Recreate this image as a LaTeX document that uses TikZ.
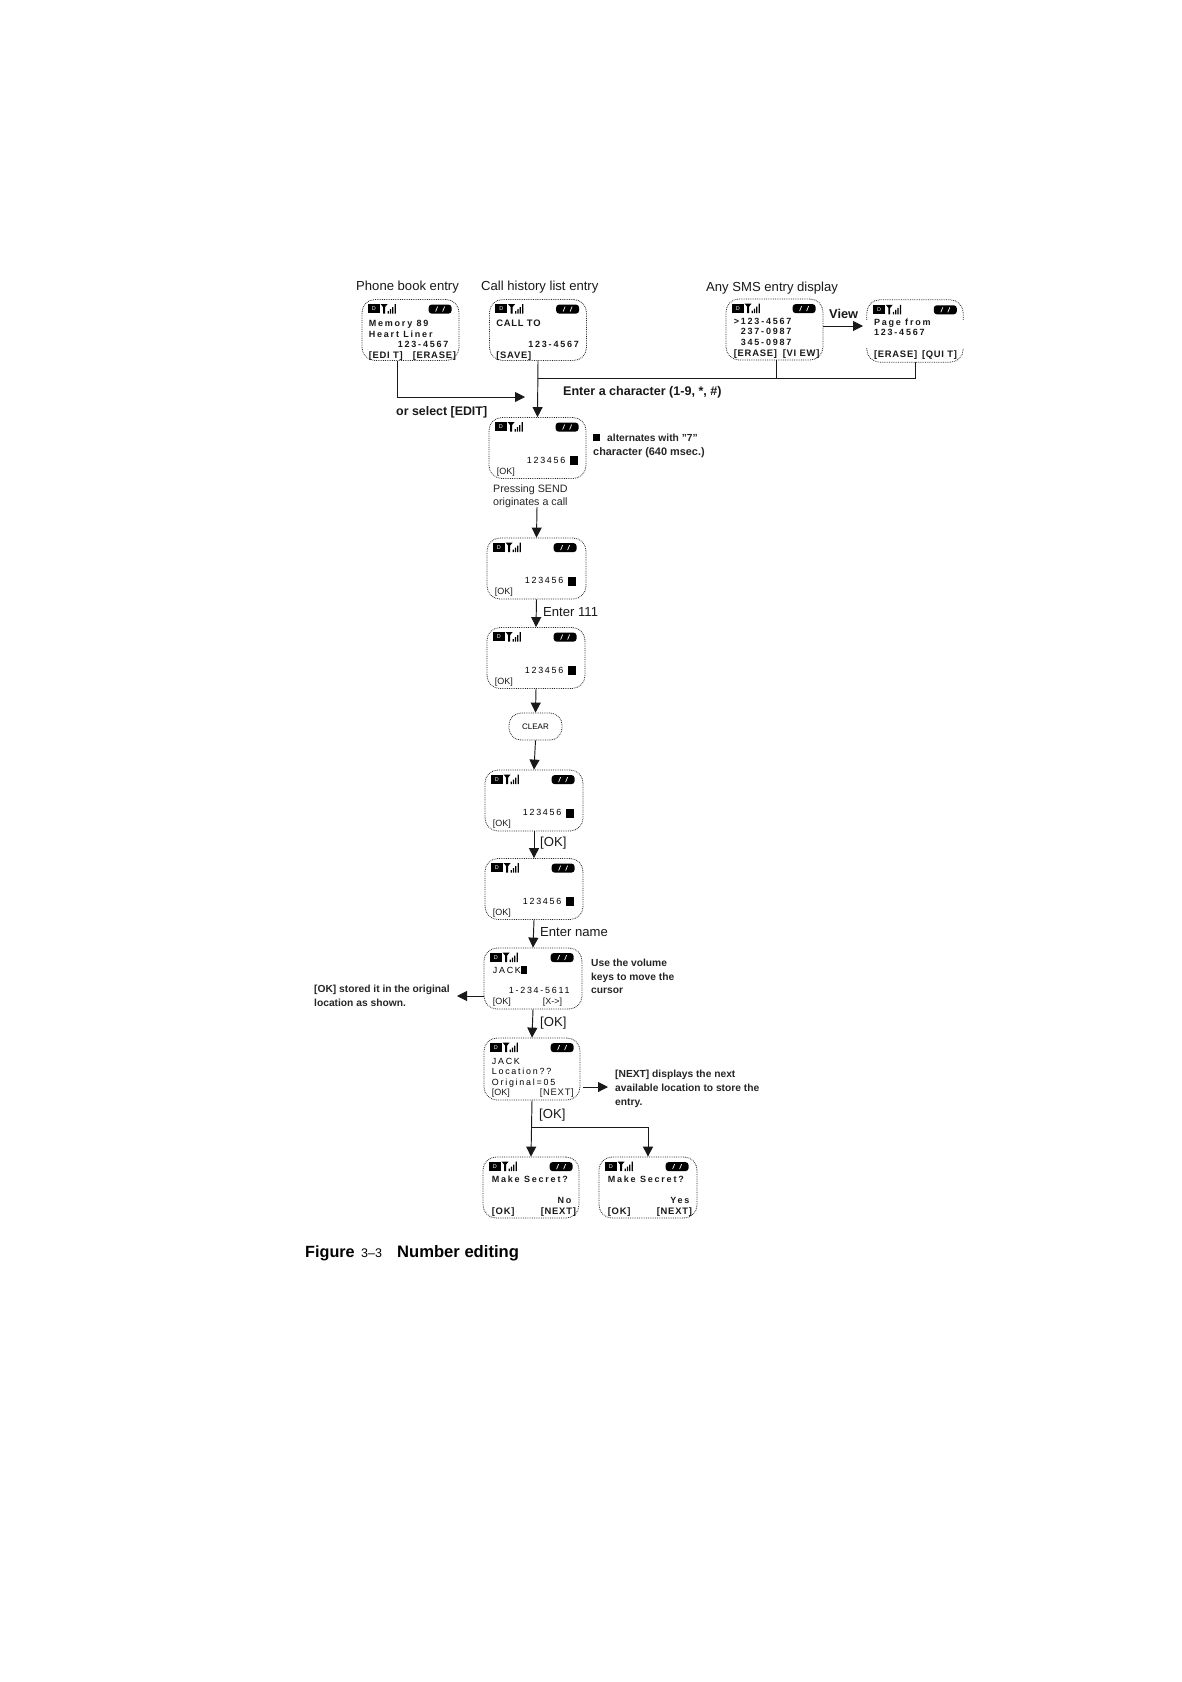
\documentclass[tikz,border=0pt]{standalone}
\usepackage{fontspec}
\setmainfont{Liberation Sans}
\newfontfamily\spfont[LetterSpace=20]{Liberation Sans}
\newfontfamily\spfontb[LetterSpace=8]{Liberation Sans}
\usetikzlibrary{arrows.meta}
\tikzset{
  screenbox/.style={draw=black!85,densely dotted,line width=0.8pt,rounded corners=13pt,minimum width=#1,minimum height=61pt,inner sep=0pt},
  screenbox/.default=97pt,
  conn/.style={line width=0.95pt,black!90},
  arr/.style={conn,-{Triangle[length=10pt,width=10pt]}},
  lbl/.style={anchor=base west,inner sep=0pt,font=\fontsize{11.5}{13}\selectfont,text=black!90},
  small/.style={anchor=base west,inner sep=0pt,font=\fontsize{10.25}{11}\selectfont\bfseries,text=black!85},
  big/.style={anchor=base west,inner sep=0pt,font=\fontsize{13.1}{15}\selectfont,text=black!90},
  st/.style={anchor=base west,inner sep=0pt,font=\fontsize{9}{9}\spfont\bfseries,text=black!90},
  sk/.style={anchor=base west,inner sep=0pt,font=\fontsize{9.4}{9}\spfontb\bfseries,text=black!90},
  skthin/.style={anchor=base west,inner sep=0pt,font=\fontsize{9}{9}\selectfont,text=black!90},
  stlight/.style={anchor=base west,inner sep=0pt,font=\fontsize{8.9}{9}\spfont,text=black},
  cursor/.style={fill=black,inner sep=0pt,minimum width=8pt,minimum height=9pt,anchor=north west},
}
% status bar of a phone screen
\newcommand{\statusbar}[1]{%
  \node[fill=black,text=white,inner sep=0pt,minimum width=12pt,minimum height=9pt,anchor=north west,font=\fontsize{5.5}{6}\selectfont] (#1-d) at ([shift={(6,5)}]#1.north west) {D};
  \begin{scope}[shift={(#1.north west)}]
    \fill (19,5) -- (26,5) -- (23.4,8) -- (23.4,14.5) -- (21.6,14.5) -- (21.6,8) -- cycle;
    \fill (26,12) rectangle (27.2,14.5) (28.3,10) rectangle (29.5,14.5) (30.6,8) rectangle (31.8,14.5) (33,5) rectangle (34.2,14.5);
    \fill[rounded corners=3pt] (67,5.5) rectangle (90,14.5);
    \draw[white,line width=0.7pt] (74,12.5) -- (76,7.5) (81,12.5) -- (83,7.5);
  \end{scope}}
\newcommand{\numscreen}[4]{% name, cx, cy, width
  \node[screenbox=#4] (#1) at (#2,#3) {};
  \statusbar{#1}
  \node[stlight] (#1-n) at ([shift={(38,46)}]#1.north west) {123456};
  \node[cursor] (#1-c) at ([shift={(81,39)}]#1.north west) {};
  \node[skthin] (#1-k) at ([shift={(8,57)}]#1.north west) {[OK]};}
\newcommand{\scr}[5][st]{\node[#1] (#2-#3) at ([shift={#4}]#2.north west) {#5};}
\begin{document}
\begin{tikzpicture}[x=1pt,y=-1pt]
\useasboundingbox[fill=white] (0,0) rectangle (1182,1682);

% ---- headings
\node[big] (h1) at (356,290) {Phone book entry};
\node[big] (h2) at (481,290) {Call history list entry};
\node[big] (h3) at (706,291) {Any SMS entry display};

% ---- top screens
\node[screenbox] (p1) at (410.5,330) {};
\statusbar{p1}
\scr{p1}{a}{(7,27)}{Memory 89}
\scr{p1}{b}{(7,38)}{Heart Liner}
\scr{p1}{c}{(36,48)}{123-4567}
\scr[sk]{p1}{d}{(7,59)}{[EDI T]}
\scr[sk]{p1}{e}{(51,59)}{[ERASE]}

\node[screenbox] (p2) at (538,330) {};
\statusbar{p2}
\scr[sk]{p2}{a}{(7,27)}{CALL TO}
\scr{p2}{c}{(39,48)}{123-4567}
\scr[sk]{p2}{d}{(7,59)}{[SAVE]}

\node[screenbox] (sms) at (774.5,329.5) {};
\statusbar{sms}
\scr{sms}{a}{(8,26)}{>123-4567}
\scr{sms}{b}{(15,36)}{237-0987}
\scr{sms}{c}{(15,47)}{345-0987}
\scr[sk]{sms}{d}{(8,58)}{[ERASE]}
\scr[sk]{sms}{e}{(57,58)}{[VI EW]}

\node[minimum width=96pt,minimum height=62pt,inner sep=0pt] (page) at (915,331) {};
\draw[black!85,densely dotted,line width=0.8pt,rounded corners=13pt]
  ([shift={(0,20)}]page.north west) -- (page.north west) -- (page.north east) -- ([shift={(0,20)}]page.north east);
\draw[black!85,densely dotted,line width=0.8pt,rounded corners=13pt]
  ([shift={(0,-14)}]page.south west) -- (page.south west) -- (page.south east) -- ([shift={(0,-14)}]page.south east);
\statusbar{page}
\scr{page}{a}{(7,26)}{Page from}
\scr{page}{b}{(7,36)}{123-4567}
\scr[sk]{page}{c}{(7,58)}{[ERASE]}
\scr[sk]{page}{d}{(55,58)}{[QUI T]}

\node[big,font=\fontsize{12.8}{15}\selectfont\bfseries] (view) at (829,318) {View};
\coordinate (vt) at (863,326);
\draw[arr] (sms.east |- vt) -- (vt);

% ---- main column
\numscreen{p3}{537.5}{448}{97pt}
\numscreen{p4}{536.5}{568.5}{99pt}
\numscreen{p5}{536}{658}{98pt}
\node[draw=black!85,densely dotted,line width=0.8pt,rounded corners=12pt,minimum width=53pt,minimum height=27pt,inner sep=0pt,font=\fontsize{8}{8}\selectfont] (clear) at (535.5,726.5) {CLEAR};
\numscreen{p6}{534}{800.5}{98pt}
\numscreen{p7}{534}{889}{98pt}

\node[screenbox=98pt] (p8) at (533,978.5) {};
\statusbar{p8}
\scr[stlight]{p8}{a}{(9,26)}{JACK}
\node[fill=black,inner sep=0pt,minimum width=6pt,minimum height=8pt,anchor=north west] (p8-c) at (521,966) {};
\scr[stlight]{p8}{b}{(25,46)}{1-234-5611}
\scr[skthin]{p8}{k}{(9,57)}{[OK]}
\scr[skthin]{p8}{l}{(59,57)}{[X->]}

\node[screenbox=96pt,minimum height=62pt] (p9) at (532,1069) {};
\statusbar{p9}
\scr[stlight]{p9}{a}{(8,27)}{JACK}
\scr[stlight]{p9}{b}{(8,37)}{Location??}
\scr[stlight]{p9}{c}{(8,48)}{Original=05}
\scr[skthin]{p9}{k}{(8,58)}{[OK]}
\scr[skthin,font=\fontsize{9.4}{9}\spfontb]{p9}{l}{(56,58)}{[NEXT]}

\node[screenbox=96pt] (p10) at (531,1187.5) {};
\statusbar{p10}
\scr{p10}{a}{(9,26)}{Make Secret?}
\node[st,anchor=base east] (p10-b) at ([shift={(89,47)}]p10.north west) {No};
\scr[sk]{p10}{k}{(9,58)}{[OK]}
\scr[sk]{p10}{l}{(58,58)}{[NEXT]}

\node[screenbox=98pt] (p11) at (648,1187.5) {};
\statusbar{p11}
\scr{p11}{a}{(9,26)}{Make Secret?}
\node[st,anchor=base east] (p11-b) at ([shift={(91,47)}]p11.north west) {Yes};
\scr[sk]{p11}{k}{(9,58)}{[OK]}
\scr[sk]{p11}{l}{(58,58)}{[NEXT]}

% ---- connector junctions
\coordinate (j1) at (538,378);
\coordinate (e1) at (525,397);
\coordinate (s3) at (537,507);
\coordinate (j9) at (532,1127);
\coordinate (t11) at (648,1153);
\coordinate (l8) at (457,996);
\coordinate (r9) at (608,1087);

% ---- connectors
\draw[arr] (p1.south) ++(-13.5,0) |- (e1);
\draw[arr] (p2.south) -- (p3.north);
\draw[conn] (sms.south) ++(1.5,0) |- (j1);
\draw[conn] (page.south) -- (page.south |- j1) -- (j1);
\draw[arr] (s3) -- (p4.north);
\draw[arr] (p4.south) -- (p5.north);
\draw[arr] (p5.south) -- (clear.north);
\draw[arr] (clear.south) -- (p6.north);
\draw[arr] (p6.south) -- (p7.north);
\draw[arr] (p7.south) -- (p8.north);
\draw[arr] (p8.south) -- (p9.north);
\draw[arr] (p9.south) -- (p10.north);
\draw[conn] (j9) -| (t11);
\draw[arr] (j9 -| t11) -- (p11.north);
\draw[arr] (p8.west |- l8) -- (l8);
\draw[arr] (p9.east |- r9) ++(3,0) -- (r9);

% ---- labels
\node[lbl,font=\fontsize{12.4}{14}\selectfont\bfseries] (t1) at (396,415) {or select [EDIT]};
\node[lbl,font=\fontsize{12.55}{14}\selectfont\bfseries] (t2) at (563,395) {Enter a character (1-9, *, \#)};
\node[fill=black,inner sep=0pt,minimum width=7pt,minimum height=7pt] (t3c) at (596.5,437) {};
\node[small] (t3) at (607,441) {alternates with "7"};
\node[small,font=\fontsize{10.9}{11}\selectfont\bfseries] (t3b) at (593,455.5) {character (640 msec.)};
\node[small,font=\fontsize{10.7}{11}\selectfont] (t4) at (493,492) {Pressing SEND};
\node[small,font=\fontsize{10.7}{11}\selectfont] (t4b) at (493,505) {originates a call};
\node[big] (t5) at (543,616) {Enter 111};
\node[big] (t6) at (540,846) {[OK]};
\node[big] (t7) at (540,936) {Enter name};
\node[small] (t8) at (591,966) {Use the volume};
\node[small] (t8b) at (591,980) {keys to move the};
\node[small] (t8c) at (591,993) {cursor};
\node[small] (t9) at (314,992) {[OK] stored it in the original};
\node[small] (t9b) at (314,1006) {location as shown.};
\node[big] (t10) at (540,1026) {[OK]};
\node[small] (t11l) at (615,1077) {[NEXT] displays the next};
\node[small] (t11m) at (615,1091) {available location to store the};
\node[small] (t11n) at (615,1105) {entry.};
\node[big] (t12) at (539,1118) {[OK]};

% ---- caption
\node[anchor=base west,inner sep=0pt,font=\fontsize{16.2}{18}\selectfont\bfseries] (f1) at (305,1257) {Figure};
\node[anchor=base west,inner sep=0pt,font=\fontsize{12.5}{14}\selectfont] (f2) at (361,1257) {3–3};
\node[anchor=base west,inner sep=0pt,font=\fontsize{16.6}{18}\selectfont\bfseries] (f3) at (397,1257) {Number editing};
\end{tikzpicture}
\end{document}
